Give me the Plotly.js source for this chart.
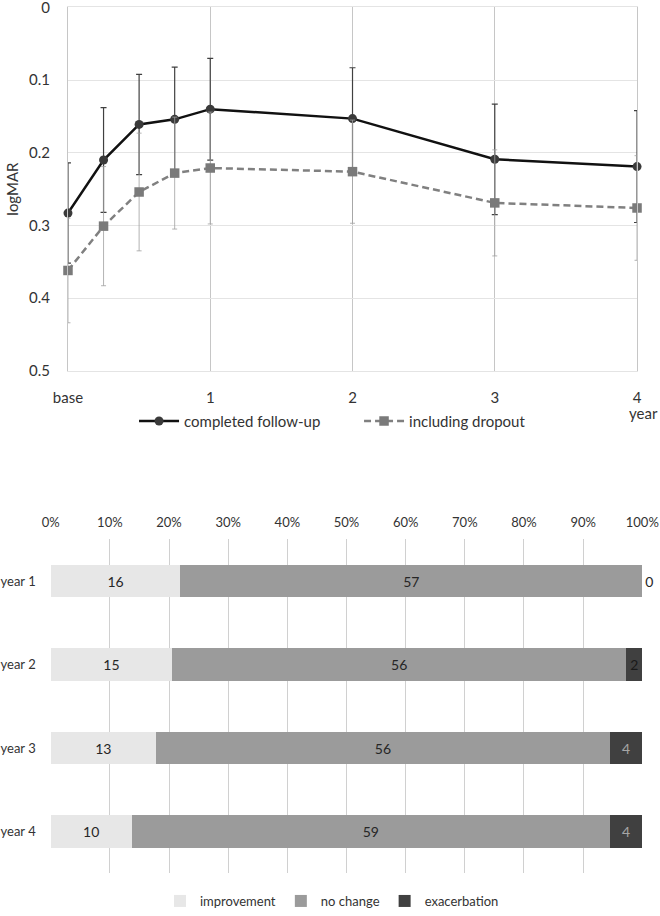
<!DOCTYPE html>
<html>
<head>
<meta charset="utf-8">
<script src="https://cdn.plot.ly/plotly-3.0.1.min.js"></script>
<style>html,body{margin:0;padding:0;background:#fff}#chart{width:660px;height:916px}</style>
</head>
<body>
<div id="chart"></div>
<script>
// ---- Top chart data (logMAR over time) ----
const timePoints = [0, 0.25, 0.5, 0.75, 1, 2, 3, 4];
const timeTickVals = [0, 1, 2, 3, 4];
const timeTickText = ['base', '1', '2', '3', '4'];
const timeUnit = 'year';
const completedMean = [0.283, 0.210, 0.161, 0.154, 0.140, 0.153, 0.209, 0.219];
const completedSD   = [0.069, 0.072, 0.069, 0.072, 0.070, 0.070, 0.076, 0.077];
const dropoutMean   = [0.362, 0.301, 0.254, 0.228, 0.221, 0.226, 0.269, 0.276];
const dropoutSD     = [0.072, 0.082, 0.081, 0.077, 0.077, 0.071, 0.073, 0.072];
const logmarTicks   = [0, 0.1, 0.2, 0.3, 0.4, 0.5];
const logmarTickText = ['0', '0.1', '0.2', '0.3', '0.4', '0.5'];

// ---- Bottom chart data (counts per year) ----
const yearLabels   = ['year 1', 'year 2', 'year 3', 'year 4'];
const improvement  = [16, 15, 13, 10];
const noChange     = [57, 56, 56, 59];
const exacerbation = [0, 2, 4, 4];

const FONT = "Lato, 'Open Sans', 'Liberation Sans', sans-serif";

const traces = [
  {
    x: timePoints, y: completedMean, xaxis: 'x', yaxis: 'y', legend: 'legend',
    type: 'scatter', mode: 'lines+markers', name: 'completed follow-up',
    line: {color: '#111111', width: 2.5},
    marker: {symbol: 'circle', size: 9, color: '#3a3a3a'},
    error_y: {type: 'data', array: completedSD, visible: true, color: '#404040', thickness: 1.2, width: 3},
    cliponaxis: false, hoverinfo: 'skip'
  },
  {
    x: timePoints, y: dropoutMean, xaxis: 'x', yaxis: 'y', legend: 'legend',
    type: 'scatter', mode: 'lines+markers', name: 'including dropout',
    line: {color: '#808080', width: 2.5, dash: '7px,4px'},
    marker: {symbol: 'square', size: 9.5, color: '#7a7a7a'},
    error_y: {type: 'data', array: dropoutSD, visible: true, color: '#a0a0a0', thickness: 0.8, width: 2.5},
    cliponaxis: false, hoverinfo: 'skip'
  },
  {
    y: yearLabels, x: improvement, xaxis: 'x2', yaxis: 'y2', legend: 'legend2',
    type: 'bar', orientation: 'h', name: 'improvement',
    marker: {color: '#e7e7e7'},
    text: improvement.map(String), textposition: 'inside', insidetextanchor: 'middle', textangle: 0,
    constraintext: 'none',
    textfont: {color: '#262626', size: 14, family: FONT},
    hoverinfo: 'skip'
  },
  {
    y: yearLabels, x: noChange, xaxis: 'x2', yaxis: 'y2', legend: 'legend2',
    type: 'bar', orientation: 'h', name: 'no change',
    marker: {color: '#9b9b9b'},
    text: noChange.map(String), textposition: 'inside', insidetextanchor: 'middle', textangle: 0,
    constraintext: 'none',
    textfont: {color: '#262626', size: 14, family: FONT},
    hoverinfo: 'skip'
  },
  {
    y: yearLabels, x: exacerbation, xaxis: 'x2', yaxis: 'y2', legend: 'legend2',
    type: 'bar', orientation: 'h', name: 'exacerbation',
    marker: {color: '#404040'},
    text: exacerbation.map(String),
    textposition: exacerbation.map(v => v === 0 ? 'outside' : 'inside'),
    insidetextanchor: 'middle', textangle: 0, cliponaxis: false, constraintext: 'none',
    textfont: {color: exacerbation.map(v => v === 0 ? '#262626' : (v < 3 ? '#1a1a1a' : '#a6a6a6')), size: 14, family: FONT},
    hoverinfo: 'skip'
  }
];

const layout = {
  width: 660, height: 916,
  margin: {l: 0, r: 0, t: 0, b: 0},
  paper_bgcolor: '#ffffff', plot_bgcolor: '#ffffff',
  font: {family: FONT, color: '#333333', size: 14},
  barmode: 'stack', barnorm: 'percent', bargap: 0.61,
  showlegend: true,
  xaxis: {
    domain: [0.1030, 0.9652], anchor: 'y', range: [0, 4],
    tickmode: 'array', tickvals: timeTickVals, ticktext: timeTickText,
    showgrid: true, gridcolor: '#c6c6c6', gridwidth: 1,
    showline: true, linecolor: '#e4e4e4', linewidth: 1, mirror: true,
    zeroline: false, ticks: '', ticklabelstandoff: 13, ticklabeloverflow: 'allow',
    tickfont: {size: 15, color: '#333333'}, fixedrange: true
  },
  yaxis: {
    domain: [0.5917, 0.9918], anchor: 'x', range: [0.5, 0],
    tickmode: 'array', tickvals: logmarTicks, ticktext: logmarTickText,
    showgrid: true, gridcolor: '#e4e4e4', gridwidth: 1,
    showline: true, linecolor: '#c6c6c6', linewidth: 1, mirror: true,
    zeroline: false, ticks: '', ticklabelstandoff: 14, ticklabeloverflow: 'allow',
    tickfont: {size: 15, color: '#333333'},
    title: {text: 'logMAR', font: {size: 15, color: '#333333'}, standoff: 6},
    fixedrange: true
  },
  xaxis2: {
    domain: [0.0768, 0.9732], anchor: 'y2', side: 'top', range: [0, 100],
    tickmode: 'linear', tick0: 0, dtick: 10, ticksuffix: '%',
    showgrid: true, gridcolor: '#d0d0d0', gridwidth: 1,
    zeroline: false, showline: false, ticks: '', ticklabelstandoff: 9,
    ticklabeloverflow: 'allow',
    tickfont: {size: 13, color: '#333333'}, fixedrange: true
  },
  yaxis2: {
    domain: [0.0382, 0.4061], anchor: 'x2', type: 'category',
    categoryorder: 'array', categoryarray: yearLabels, autorange: 'reversed',
    showgrid: false, zeroline: false, showline: false, ticks: '', ticklabelstandoff: 14,
    ticklabeloverflow: 'allow',
    tickfont: {size: 13, color: '#333333'}, fixedrange: true
  },
  annotations: [{
    text: timeUnit, xref: 'x', yref: 'paper',
    x: timeTickVals[timeTickVals.length - 1], y: 1 - 417 / 916,
    xanchor: 'center', yanchor: 'middle', xshift: 6, showarrow: false,
    font: {size: 15, color: '#333333', family: FONT}
  }],
  legend: {
    orientation: 'h', x: 0.544, xanchor: 'center', y: 1 - 425 / 916, yanchor: 'middle',
    font: {size: 15, color: '#333333'}, bgcolor: 'rgba(0,0,0,0)', itemwidth: 40,
    entrywidth: 170
  },
  legend2: {
    orientation: 'h', x: 0.503, xanchor: 'center', y: 1 - 909 / 916, yanchor: 'middle',
    font: {size: 13, color: '#333333'}, bgcolor: 'rgba(0,0,0,0)', traceorder: 'normal',
    itemwidth: 30
  }
};

Plotly.newPlot('chart', traces, layout, {displayModeBar: false, staticPlot: true});
</script>
</body>
</html>
